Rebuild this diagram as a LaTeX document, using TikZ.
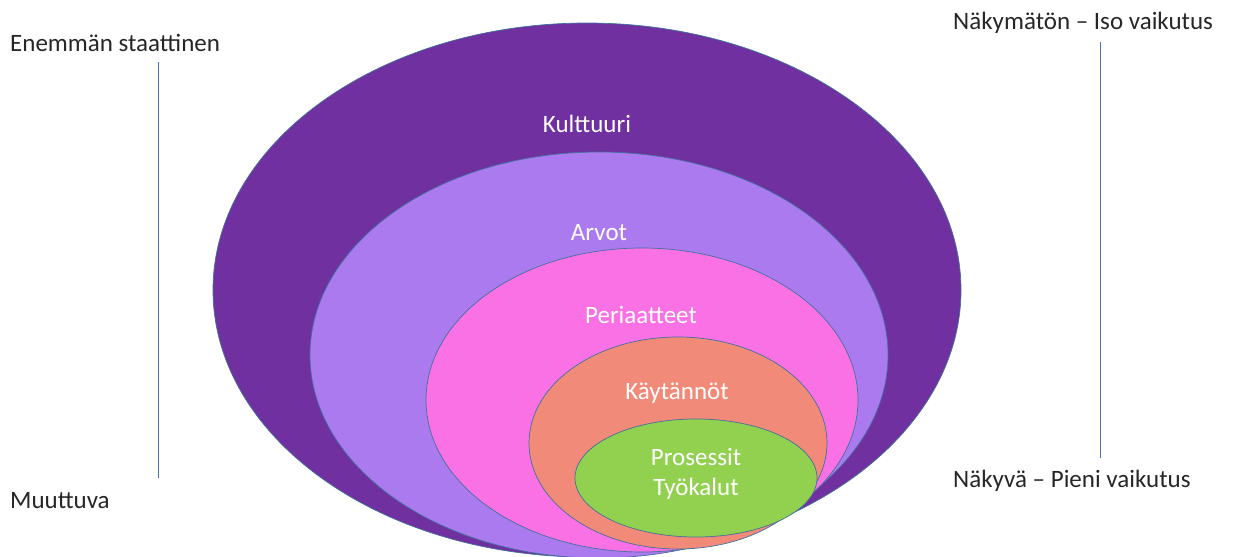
\documentclass[tikz,border=0pt]{standalone}
\usepackage{fontspec}
\setmainfont{Carlito}
\usetikzlibrary{positioning,shapes.geometric}
\definecolor{kultcol}{HTML}{7030A0}
\definecolor{arvocol}{HTML}{AB7AEF}
\definecolor{periacol}{HTML}{F971E5}
\definecolor{kaytcol}{HTML}{F18A78}
\definecolor{proscol}{HTML}{92D050}
\definecolor{edgecol}{HTML}{41719C}
\definecolor{axiscol}{HTML}{4472C4}
\begin{document}
\begin{tikzpicture}[x=1pt,y=-1pt,
  layer/.style={ellipse,draw=edgecol,line width=0.7pt,inner sep=0pt},
  layerlabel/.style={text=white,anchor=base,inner sep=0pt,font=\fontsize{25}{30}\selectfont},
  sidelabel/.style={anchor=base west,inner sep=0pt,text=black!85,font=\fontsize{25}{30}\selectfont},
  axisline/.style={draw=axiscol,line width=1pt}]
\useasboundingbox (0,0) rectangle (1235,557);
\node[layer,fill=kultcol,minimum width=748pt,minimum height=534pt] (kulttuuri) at (587,290) {};
\node[layer,fill=arvocol,minimum width=578pt,minimum height=406pt] (arvot) at (599,355) {};
\node[layer,fill=periacol,minimum width=432pt,minimum height=304pt] (periaatteet) at (642,400) {};
\node[layer,fill=kaytcol,minimum width=298pt,minimum height=212pt] (kaytannot) at (678,443) {};
\node[layer,fill=proscol,minimum width=242pt,minimum height=118pt] (prosessit) at (696,478) {};
\node[layerlabel] (kulttuurilabel) at (587,132) {Kulttuuri};
\node[layerlabel] (arvotlabel) at (599,240) {Arvot};
\node[layerlabel] (periaatteetlabel) at (641,323) {Periaatteet};
\node[layerlabel] (kaytannotlabel) at (677,399) {Käytännöt};
\node[layerlabel,anchor=center,align=center] (prosessitlabel) at (696,474) {Prosessit\\Työkalut};
\node[sidelabel] (staattinen) at (10,51) {Enemmän staattinen};
\node[sidelabel] (muuttuva) at (10,508) {Muuttuva};
\node[sidelabel] (nakymaton) at (953,29) {Näkymätön – Iso vaikutus};
\node[sidelabel] (nakyva) at (953,487) {Näkyvä – Pieni vaikutus};
\coordinate (statictop) at (158,62);
\coordinate (staticbot) at (158,478);
\coordinate (visibletop) at (1100,42);
\coordinate (visiblebot) at (1100,458);
\draw[axisline] (statictop) -- (staticbot);
\draw[axisline] (visibletop) -- (visiblebot);
\end{tikzpicture}
\end{document}
